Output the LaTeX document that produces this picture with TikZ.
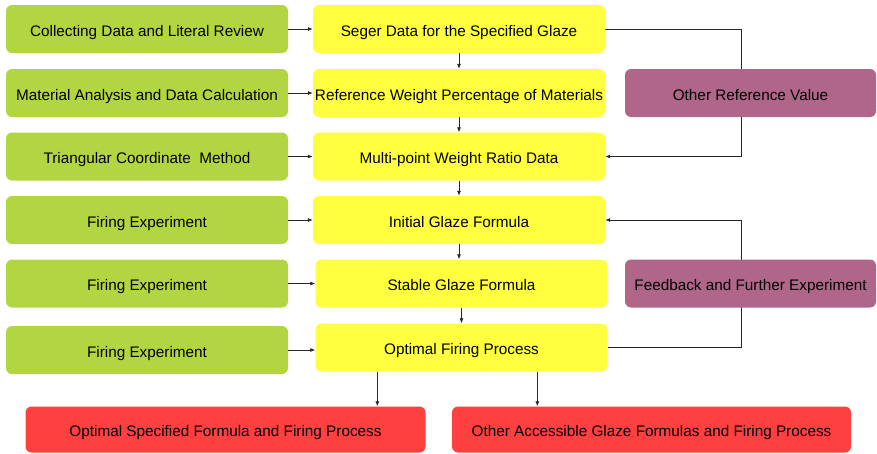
\documentclass[tikz,border=0pt]{standalone}
\usepackage{fontspec}
\setmainfont{Liberation Sans}
\usetikzlibrary{positioning,arrows.meta,backgrounds}
\definecolor{srcgreen}{RGB}{178,214,66}
\definecolor{stepyellow}{RGB}{255,255,64}
\definecolor{sidepurple}{RGB}{176,102,136}
\definecolor{outred}{RGB}{255,64,64}
\tikzset{
  box/.style={rounded corners=6pt, minimum height=48pt, inner sep=0pt,
    text height=14pt, text depth=0pt,
    font=\fontsize{15.3}{17}\selectfont, align=center},
  src/.style={box, fill=srcgreen, minimum width=282pt},
  stepbox/.style={box, fill=stepyellow, minimum width=292pt},
  side/.style={box, fill=sidepurple, minimum width=251pt},
  result/.style={box, fill=outred, minimum width=400pt, minimum height=46pt},
  link/.style={-{Latex[length=5pt,width=4pt]}, line width=0.8pt, draw=black!85},
}

\begin{document}
\begin{tikzpicture}[x=1pt,y=-1pt]
  \useasboundingbox (0,0) rectangle (877,453);
  % left column
  \node[src] (collect) at (147,29) {Collecting Data and Literal Review};
  \node[src, on grid, below=64pt of collect] (analysis) {Material Analysis and Data Calculation};
  \node[src, on grid, below=63.5pt of analysis] (triangle) {Triangular Coordinate\ \ Method};
  \node[src, on grid, below=63.5pt of triangle] (firingA) {Firing Experiment};
  \node[src, on grid, below=63.5pt of firingA] (firingB) {Firing Experiment};
  \node[src, on grid, below=66.5pt of firingB] (firingC) {Firing Experiment};
  % middle column
  \node[stepbox, on grid, right=312pt of collect] (seger) {Seger Data for the Specified Glaze};
  \node[stepbox, on grid, right=312pt of analysis] (reference) {Reference Weight Percentage of Materials};
  \node[stepbox, on grid, right=312pt of triangle] (multi) {Multi-point Weight Ratio Data};
  \node[stepbox, on grid, right=312pt of firingA] (initial) {Initial Glaze Formula};
  \node[stepbox, on grid, right=314.5pt of firingB] (stable) {Stable Glaze Formula};
  \node[stepbox, on grid, below=64pt of stable] (optimal) {Optimal Firing Process};
  % right column
  \node[side, on grid, right=291.5pt of reference] (otherref) {Other Reference Value};
  \node[side, on grid, right=289pt of stable] (feedback) {Feedback and Further Experiment};
  % results
  \node[result, on grid, below left=82pt and 236pt of optimal] (best) {Optimal Specified Formula and Firing Process};
  \node[result, on grid, below right=82pt and 190pt of optimal, minimum width=399pt] (others) {Other Accessible Glaze Formulas and Firing Process};

  \draw[link] (collect) -- (seger);
  \draw[link] (analysis) -- (reference);
  \draw[link] (triangle) -- (multi);
  \draw[link] (firingA) -- (initial);
  \draw[link] (firingB) -- (stable);
  \draw[link] (firingC.east) -- (firingC.east -| optimal.west);
  \draw[link] (seger) -- (reference);
  \draw[link] (reference) -- (multi);
  \draw[link] (multi) -- (initial);
  \draw[link] (initial.south) -- (initial.south |- stable.north);
  \draw[link] (stable) -- (optimal);
  \draw[link] ([xshift=62pt]optimal.south west) -- ([xshift=62pt]optimal.south west |- best.north);
  \draw[link] ([xshift=222pt]optimal.south west) -- ([xshift=222pt]optimal.south west |- others.north);
  \begin{scope}[on background layer]
    \draw[link] (seger.east) -| ([xshift=-9.5pt]otherref.center) |- (multi.east);
    \draw[link] (optimal.east) -| ([xshift=-9.5pt]feedback.center) |- (initial.east);
  \end{scope}
\end{tikzpicture}
\end{document}
